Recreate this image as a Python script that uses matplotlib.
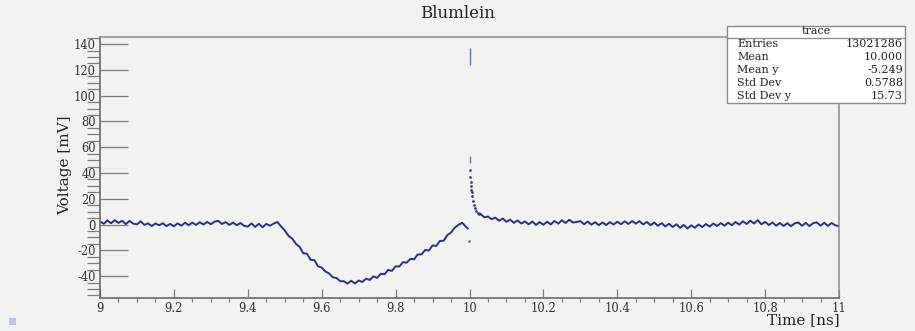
import numpy as np
import matplotlib
matplotlib.use("Agg")
import matplotlib.pyplot as plt
from matplotlib.ticker import MultipleLocator, FuncFormatter
from matplotlib.patches import Rectangle

# trace before the pulse edge, 0.01 ns steps from 9.00
t_pre = np.round(np.arange(9.00, 10.00, 0.01), 3).tolist() + [9.995]
v_pre = [2.4, 0.6, 3.2, 1.0, 3.4, 1.3, 2.9, 0.3, 2.8, 0.7,
         0.1, 2.5, -0.3, 0.9, -1.2, 0.8, -0.6, 1.0, -1.2, 0.5,
         -1.4, 0.9, -0.9, 1.4, -0.5, 1.5, -0.3, 1.8, 0.0, 2.0,
         0.2, 2.2, 2.9, 0.4, 1.9, -0.3, 1.5, -0.5, 1.2, -1.0,
         -1.6, 0.9, -1.9, 0.6, -2.1, 0.5, -0.9, 0.7, 2.0, -1.5,
         -4.5, -8.8, -10.8, -14.9, -17.2, -22.3, -22.6, -27.4, -27.6, -32.3,
         -33.5, -36.4, -38.0, -40.9, -41.5, -44.0, -44.0, -45.8, -43.6, -45.8,
         -43.4, -44.6, -42.0, -43.0, -40.2, -41.4, -38.2, -38.6, -35.2, -36.0,
         -32.4, -32.6, -29.2, -29.6, -26.6, -27.0, -23.2, -23.2, -19.7, -20.2,
         -16.2, -16.6, -12.7, -12.6, -8.2, -6.3, -2.4, -0.3, 1.4, -1.6, -3.0]

# fast decay right after the edge (sparse points)
t_decay = [10.001, 10.002, 10.003, 10.004, 10.005, 10.006, 10.008,
           10.010, 10.012, 10.015, 10.018, 10.022, 10.026]
v_decay = [42, 37, 33, 30, 27, 25, 22, 18, 15, 12.5, 10.5, 9, 8]

# tail after the pulse, 0.01 ns steps from 10.03
t_post = np.round(np.arange(10.03, 11.001, 0.01), 3).tolist()
v_post = [8.2, 5.6, 6.2, 4.1, 5.4, 2.9, 4.7, 2.1, 3.8, 1.3, 3.2, 0.8,
          2.4, 0.2, 2.3, -0.3, 1.9, -0.2, 2.2, 0.1, 2.8, 0.7,
          3.3, 1.2, 3.7, 1.5, 2.0, 2.7, 0.2, 2.3, -0.1, 1.8,
          -0.5, 1.6, -0.4, 1.9, 0.0, 2.2, 0.2, 2.5, 0.4, 2.7,
          0.7, 2.6, 0.1, 2.0, -0.5, 1.5, -1.0, 1.1, -1.5, 0.6,
          -1.9, 0.2, -2.6, -0.3, -3.1, -0.6, -2.5, 0.0, -1.9, 0.4,
          -1.6, 0.8, -1.2, 1.1, -0.9, 1.4, -0.5, 2.0, -0.1, 2.5,
          0.4, 3.0, 0.8, 3.4, 0.2, 2.1, -0.4, 1.6, -0.9, 1.2,
          -1.1, 1.0, -1.3, 0.9, 1.6, -1.0, 1.3, -1.2, 1.1, 1.7,
          -0.9, 1.4, -1.1, 1.2, -0.6, -1.3]

# isolated entries at the edge time
spike_t = [10.0, 10.0]
spike_lo = [124, 48]
spike_hi = [137, 53]
dot_t = [9.999]
dot_v = [-13]

stats_names = ["Entries", "Mean", "Mean y", "Std Dev", "Std Dev y"]
stats_vals = ["13021286", "10.000", "-5.249", "0.5788", "15.73"]

bg = "#f2f2f1"
trace_col = "#283282"
frame_col = "#7d7d7d"

plt.rcParams["font.family"] = "DejaVu Serif"

fig = plt.figure(figsize=(9.15, 3.31), dpi=100, facecolor=bg)
ax = fig.add_axes([100 / 915, 1 - 298 / 331, 739 / 915, 261 / 331])
ax.set_facecolor(bg)

ax.plot(t_pre, v_pre, color=trace_col, lw=1.4)
ax.plot(t_post, v_post, color=trace_col, lw=1.4)
ax.plot(t_decay, v_decay, ".", color=trace_col, ms=2.2, alpha=0.8)
ax.vlines(spike_t, spike_lo, spike_hi, color="#6a72c0", lw=1.0)
ax.plot(dot_t, dot_v, ".", color="#6a72c0", ms=2)

ax.set_xlim(9, 11)
ax.set_ylim(-57, 145.5)
ax.xaxis.set_major_locator(MultipleLocator(0.2))
ax.xaxis.set_minor_locator(MultipleLocator(0.05))
ax.yaxis.set_major_locator(MultipleLocator(20))
ax.yaxis.set_minor_locator(MultipleLocator(5))
ax.xaxis.set_major_formatter(FuncFormatter(lambda v, p: "%g" % round(v, 2)))
ax.yaxis.set_major_formatter(FuncFormatter(lambda v, p: "%d" % v))

ax.tick_params(axis="both", direction="in", colors=frame_col, labelcolor="#333333",
               labelsize=8.3, width=0.9)
ax.tick_params(axis="y", which="major", length=20, pad=3)
ax.tick_params(axis="y", which="minor", length=9.5)
ax.tick_params(axis="x", which="major", length=6.5, pad=3)
ax.tick_params(axis="x", which="minor", length=3.2)
ax.tick_params(axis="both", which="minor", colors=frame_col, width=0.9)

for s in ["left", "bottom"]:
    ax.spines[s].set_color("#6a6a6a")
    ax.spines[s].set_linewidth(1.2)
for s in ["top", "right"]:
    ax.spines[s].set_color("#8a8a8a")
    ax.spines[s].set_linewidth(1.1)

fig.text(457 / 915, 1 - 14 / 331, "Blumlein", ha="center", va="center",
         fontsize=12, color="#222222")
fig.text(65 / 915, 1 - 165 / 331, "Voltage [mV]", ha="center", va="center",
         rotation=90, fontsize=11, color="#222222")
fig.text(840 / 915, 1 - 320 / 331, "Time [ns]", ha="right", va="center",
         fontsize=11, color="#222222")

# stats box
bx0, bx1 = 727 / 915, 905 / 915
by0, by1 = 1 - 103 / 331, 1 - 26 / 331
fig.patches.append(Rectangle((bx0, by0), bx1 - bx0, by1 - by0, transform=fig.transFigure,
                             facecolor="white", edgecolor="#8a8a8a", lw=1.0, zorder=5))
fig.lines.append(plt.Line2D([bx0, bx1], [1 - 38 / 331] * 2, transform=fig.transFigure,
                            color="#8a8a8a", lw=0.9, zorder=6))
fig.text((bx0 + bx1) / 2, 1 - 31.5 / 331, "trace", ha="center", va="center",
         fontsize=8, color="#222222", zorder=7)
for i, (n, v) in enumerate(zip(stats_names, stats_vals)):
    y = 1 - (44 + 13 * i) / 331
    fig.text(737 / 915, y, n, ha="left", va="center", fontsize=8, color="#222222", zorder=7)
    fig.text(903 / 915, y, v, ha="right", va="center", fontsize=8, color="#222222", zorder=7)

# small canvas marker in the corner
fig.patches.append(Rectangle((9 / 915, 1 - 325 / 331), 7 / 915, 7 / 331,
                             transform=fig.transFigure, facecolor="#b4c8e0",
                             edgecolor="none"))

fig.savefig("out.png", dpi=100, facecolor=bg)
